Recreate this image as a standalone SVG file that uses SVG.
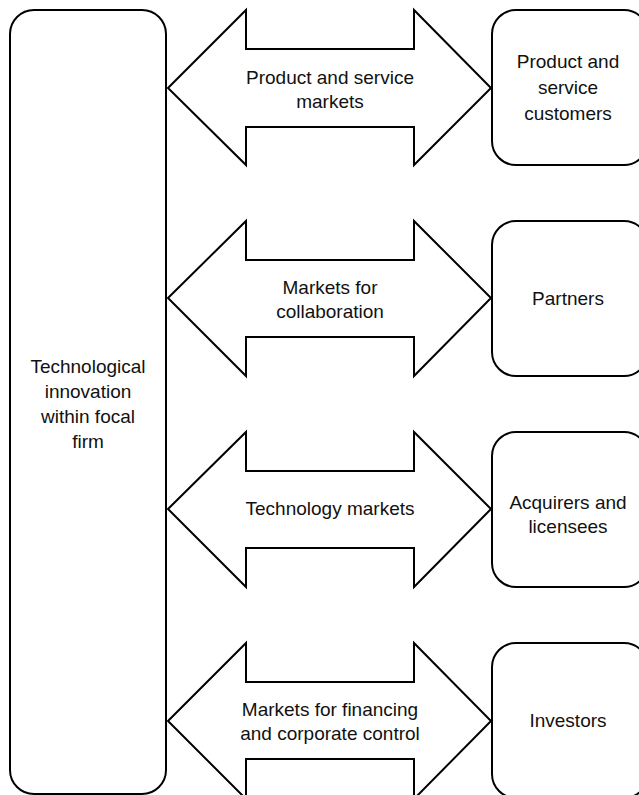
<svg xmlns="http://www.w3.org/2000/svg" width="639" height="795" viewBox="0 0 639 795">
<style>
.box{fill:#fff;stroke:#000;stroke-width:2}
.arr{fill:#fff;stroke:#000;stroke-width:2;stroke-linejoin:miter}
text{font-family:"Liberation Sans",Arial,sans-serif;font-size:19px;fill:#111;text-anchor:middle}
</style>
<rect width="639" height="795" fill="#fff"/>
<g id="connectors">
<path id="a1" class="arr" d="M168,88 L246,10 L246,49 L414,49 L414,10 L491,88 L414,165 L414,127 L246,127 L246,165 Z"/>
<path id="a2" class="arr" d="M168,298 L246,221 L246,260 L414,260 L414,221 L491,298 L414,376 L414,337 L246,337 L246,376 Z"/>
<path id="a3" class="arr" d="M168,509 L246,432 L246,471 L414,471 L414,432 L491,509 L414,587 L414,548 L246,548 L246,587 Z"/>
<path id="a4" class="arr" d="M168,721 L246,643 L246,682 L414,682 L414,643 L491,721 L414,799 L414,759 L246,759 L246,799 Z"/>
<text x="330" y="84">Product and service</text>
<text x="330" y="108">markets</text>
<text x="330" y="294">Markets for</text>
<text x="330" y="318">collaboration</text>
<text x="330" y="515">Technology markets</text>
<text x="330" y="716">Markets for financing</text>
<text x="330" y="740">and corporate control</text>
</g>
<g id="focal">
<rect class="box" x="10" y="10" width="156" height="784" rx="24"/>
<text x="88" y="373">Technological</text>
<text x="88" y="398">innovation</text>
<text x="88" y="423">within focal</text>
<text x="88" y="448">firm</text>
</g>
<g id="customers">
<rect class="box" x="492" y="10" width="156" height="155" rx="24"/>
<text x="568" y="68">Product and</text>
<text x="568" y="94">service</text>
<text x="568" y="120">customers</text>
</g>
<g id="partners">
<rect class="box" x="492" y="221" width="156" height="155" rx="24"/>
<text x="568" y="305">Partners</text>
</g>
<g id="acquirers">
<rect class="box" x="492" y="432" width="156" height="155" rx="24"/>
<text x="568" y="509">Acquirers and</text>
<text x="568" y="533">licensees</text>
</g>
<g id="investors">
<rect class="box" x="492" y="643" width="156" height="155" rx="24"/>
<text x="568" y="727">Investors</text>
</g>
</svg>
